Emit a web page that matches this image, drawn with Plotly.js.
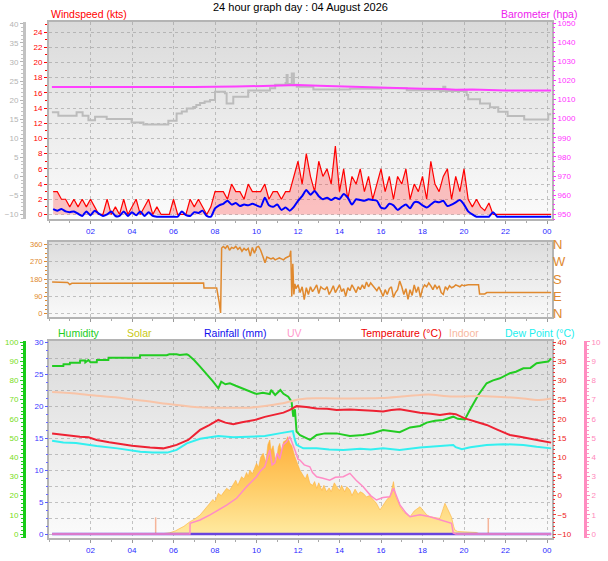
<!DOCTYPE html>
<html><head><meta charset="utf-8">
<script src="https://cdn.plot.ly/plotly-3.0.1.min.js"></script>
<style>html,body{margin:0;padding:0;background:#fff}#chart{width:608px;height:561px}</style>
</head><body><div id="chart"></div>
<script>
// ---------- DATA ----------
const hourTicks = [2,4,6,8,10,12,14,16,18,20,22,24];
const hourLabels = ['02','04','06','08','10','12','14','16','18','20','22','00'];

// wind: 12-minute samples starting at 00:12
const windStep = 0.2;
const gust = [
 3,3,2,2,1, 2,1,2,1,2, 1,0,0,2,0, 1,0,2,0,1, 2,0,1,2,0, 1,0,0,0,2,
 0,0,0,2,1, 2,1,0,1,3, 3,3,2,4,3, 3,2,4,3,3, 3,4,2,3,3, 2,3,3,5,7,
 4,8,5,3,7, 5,6,4,9,3, 6,2,5,4,6, 3,5,2,4,6, 3,5,2,5,4, 6,2,4,3,5,
 2,7,4,3,5, 6,2,5,3,6, 2,1,2,1,0.5, 1.5,0,0,0,0, 0,0,0,0,0, 0,0,0,0,0, 0];
const avgWind = [
 0.7,0.5,0.7,0.4,0.3, 0.4,0.1,-0.2,0.4,-0.1, 0.5,0.1,-0.2,0.0,0.4, -0.2,-0.2,0.4,-0.2,0.3,
 -0.1,0.4,-0.2,0.3,-0.2, -0.3,-0.3,-0.3,-0.3,-0.3, -0.3,0.4,-0.1,-0.2,0.3, 0.2,0.5,-0.2,-0.3,0.8,
 1.2,1.4,1.8,1.3,1.5, 1.1,1.3,1.2,1.4,1.2, 1.0,2.2,1.2,1.0,1.3, 0.6,0.9,0.5,1.0,1.8,
 2.4,3.2,2.6,3.1,2.4, 2.0,2.2,1.9,2.2,2.0, 2.7,2.2,1.3,2.0,1.9, 1.8,2.0,1.9,1.8,0.9,
 0.8,1.4,1.2,0.6,1.0, 1.3,0.8,1.6,1.6,1.2, 0.9,1.3,1.7,1.6,1.8, 1.1,1.3,1.6,1.9,1.3,
 0.4,0.0,-0.3,-0.3,-0.3, -0.3,0.3,-0.3,-0.3,-0.3, -0.3,-0.3,-0.3,-0.3,-0.3, -0.3,-0.3,-0.3,-0.3,-0.3, -0.3];

const greyT = [0.14,0.45,1.33,1.62,1.9,2.22,2.78,3.98,4.55,5.75,6.15,6.4,6.64,6.95,7.1,7.28,7.5,7.76,8.0,8.48,8.56,8.88,9.6,10.65,10.9,11.4,11.45,11.5,11.7,11.8,11.94,12.74,14.5,15.95,17.24,18.84,19.0,19.1,20.13,20.2,20.77,21.25,21.65,22.1,22.9,24.06,24.2];
const greyV = [16.8,15.9,16.8,15.9,14.7,15.6,15.0,14.1,13.6,14.6,16.5,17.0,17.8,18.2,18.7,19.2,19.6,20.0,22.2,21.8,19.1,20.9,22.5,23.1,24.0,24.5,26.6,24.2,27.0,24.0,23.5,22.8,23.0,23.1,22.6,22.4,23.5,22.4,21.3,20.2,19.1,18.1,16.9,15.8,14.9,16.3,16.3];

const baroT = [0.14,4.4,4.45,4.5,7.0,9.0,10.0,11.0,12.0,13.0,14.0,15.0,16.0,17.0,18.0,19.0,19.6,20.4,21.0,22.0,24.2];
const baroV = [1016.6,1016.6,1016.3,1016.6,1016.6,1016.8,1017.0,1017.4,1017.6,1017.3,1016.9,1016.6,1016.3,1016.0,1015.7,1015.6,1015.2,1015.3,1015.0,1014.8,1014.7];

const dirT = [0.15,0.9,1.0,1.1,2,3,4,5,6,7,7.45,7.47,8.08,8.2,8.27,8.32,8.4,8.5,8.6,8.7,8.8,8.9,9.0,9.1,9.2,9.3,9.4,9.5,9.6,9.7,9.8,9.9,10.0,10.1,10.2,10.3,10.41,10.5,10.6,10.7,10.8,10.9,11.0,11.1,11.2,11.3,11.4,11.5,11.6,11.65,11.7,11.75,11.8,11.85,11.9,12.0,12.1,12.2,12.3,12.4,12.5,12.6,12.7,12.8,12.9,13.0,13.1,13.2,13.3,13.4,13.5,13.6,13.7,13.8,13.9,14.0,14.1,14.2,14.3,14.4,14.5,14.6,14.7,14.8,14.9,15.0,15.1,15.2,15.3,15.4,15.5,15.6,15.7,15.8,15.9,16.0,16.1,16.2,16.3,16.4,16.5,16.6,16.7,16.8,16.9,17.0,17.1,17.2,17.3,17.4,17.5,17.6,17.7,17.8,17.9,18.0,18.1,18.2,18.3,18.4,18.5,18.6,18.7,18.8,18.9,19.0,19.1,19.2,19.3,19.4,19.5,19.6,19.7,19.8,19.9,20.0,20.2,20.5,20.7,20.75,21.0,21.1,22,23,24.2];
const dirV = [165,162,152,158,158,158,158,158,158,159,160,134,134,60,4,342,350,340,355,330,345,340,350,335,345,325,340,330,340,300,345,315,345,350,330,300,265,295,290,285,290,280,285,290,285,280,290,295,300,328,90,260,100,155,130,150,110,140,73,135,100,140,115,130,150,105,140,130,125,140,100,120,145,110,130,150,115,130,90,135,120,150,130,110,140,125,150,130,165,140,160,145,135,120,140,115,90,125,100,130,140,85,110,125,170,140,100,130,75,125,95,150,110,140,85,130,150,140,160,145,125,150,130,145,110,100,140,125,145,135,140,150,145,140,150,145,150,150,150,103,103,110,110,110,110];

const humT = [0.15,0.69,0.7,1.0,1.01,1.49,1.5,1.74,1.75,1.9,2.0,2.3,2.31,2.86,2.87,4.38,4.39,5.67,5.8,6.15,6.3,6.64,6.72,7.0,7.28,7.6,7.9,8.16,8.3,8.5,8.72,9.0,9.3,9.68,10.0,10.3,10.64,10.7,10.9,11.15,11.3,11.53,11.69,11.77,11.85,11.93,12.1,12.25,12.58,12.9,13.3,13.86,14.5,15.14,15.6,16.1,16.5,16.9,17.4,17.88,18.2,18.6,19.0,19.48,19.7,20.04,20.3,20.69,21.09,21.4,21.73,22.21,22.5,22.86,23.2,23.5,23.8,24.06,24.2];
const humV = [87.5,87.5,88.4,88.4,89.2,89.2,90.3,90.3,89.4,90.6,89.4,89.4,90.6,90.6,91.8,91.8,93.1,93.1,93.6,93.6,93.2,93.6,93.2,90.5,87.2,83.5,79.5,75.9,79.3,78.0,78.5,77.2,76.0,74.1,72.9,73.5,72.9,75.0,72.4,75.0,73.0,71.5,68.9,61.1,65.0,53.3,51.5,50.7,49.0,51.6,52.4,52.4,51.0,51.6,52.5,54.2,53.5,53.0,55.5,56.3,58.0,59.0,59.4,61.1,60.0,59.7,65.0,72.4,78.5,80.0,81.1,83.7,84.5,86.3,86.5,88.9,89.5,89.8,91.5];

const tempT = [0.15,0.69,1.49,1.9,2.3,2.9,4.0,4.87,5.5,5.83,6.15,6.71,7.28,7.7,8.16,8.5,8.88,9.3,9.68,10.0,10.4,10.96,11.3,11.61,11.93,12.4,12.9,13.4,13.86,14.5,15.14,15.6,16.1,16.5,16.9,17.4,17.88,18.4,18.84,19.32,19.6,20.04,20.5,21.09,21.6,22.21,22.7,23.17,23.7,24.2];
const tempV = [16.2,15.8,15.3,15.2,14.5,13.9,13.0,12.5,12.3,12.7,13.2,14.5,17.1,18.3,19.7,19.0,18.6,19.1,19.5,19.8,20.5,21.3,21.6,22.3,23.3,23.1,22.7,22.6,22.3,22.4,22.3,22.1,21.9,22.3,22.5,22.0,21.6,21.3,21.0,21.4,21.2,20.1,19.3,18.4,17.2,15.8,15.3,14.9,14.3,13.8];

const dewT = [0.15,0.69,1.3,2.3,3.3,4.4,5.0,5.7,6.15,6.64,7.28,8.16,8.88,9.68,10.4,11.1,11.5,11.75,11.85,11.93,12.25,12.9,13.5,14.18,15.0,15.5,16.1,16.9,17.88,18.5,19.48,19.6,19.9,20.3,21.09,21.9,22.86,23.5,24.2];
const dewV = [14.3,13.8,13.7,12.9,12.3,11.4,11.2,11.2,11.9,13.6,14.8,15.5,15.2,15.3,15.5,16.2,16.6,16.8,14.5,13.2,12.3,12.3,12.0,11.9,12.2,12.0,12.3,11.9,12.5,12.8,13.2,12.6,12.1,12.6,13.2,13.4,13.2,12.7,12.3];

const indoorT = [0.15,1.0,2.3,3.2,4.07,4.87,5.67,6.5,7.28,8.16,9.0,9.68,10.5,11.1,11.61,12.0,12.4,14.0,16.0,17.0,17.88,18.3,19.48,21.0,22.86,23.5,24.2];
const indoorV = [27.0,26.7,26.0,25.6,25.0,24.5,23.9,23.4,23.0,22.9,22.9,22.9,23.4,23.9,24.5,25.0,25.3,25.3,25.4,25.8,26.2,26.3,25.8,25.9,25.3,24.9,25.3];

const uvT = [0.15,6.79,6.8,7.28,7.76,8.16,8.56,9.04,9.52,10.0,10.2,10.4,10.55,10.64,10.75,10.88,11.0,11.12,11.28,11.45,11.61,11.75,11.85,12.0,12.09,12.3,12.57,12.7,12.9,13.2,13.53,13.8,14.18,14.5,14.8,15.14,15.5,15.78,16.1,16.42,16.6,16.92,17.2,17.4,17.88,18.36,18.84,19.1,19.4,19.48,19.6,24.2];
const uvV = [0,0,0.56,0.73,1.0,1.25,1.5,1.86,2.46,2.98,3.3,3.5,4.0,4.37,3.6,3.7,4.2,3.9,4.64,4.8,5.07,4.6,4.37,3.9,3.85,3.6,3.5,3.2,2.98,2.9,2.8,2.95,2.98,3.16,2.8,2.46,2.0,1.77,1.9,1.94,2.38,1.5,1.1,0.9,1.0,0.9,0.73,0.65,0.56,0.05,0,0];

const solarT = [0.15,5.2,5.5,5.83,6.1,6.31,6.5,6.79,7.0,7.28,7.5,7.76,7.9,8.0,8.16,8.3,8.56,8.7,8.88,9.0,9.1,9.28,9.4,9.52,9.6,9.68,9.8,10.0,10.1,10.2,10.32,10.45,10.55,10.64,10.7,10.8,10.88,10.95,11.05,11.12,11.2,11.3,11.44,11.5,11.61,11.7,11.85,11.95,12.09,12.2,12.35,12.45,12.57,12.7,12.8,12.9,13.0,13.15,13.25,13.37,13.5,13.6,13.75,13.86,14.0,14.1,14.25,14.35,14.5,14.6,14.75,14.9,15.0,15.14,15.3,15.45,15.6,15.78,15.95,16.1,16.27,16.45,16.6,16.7,16.92,17.1,17.4,17.6,17.88,18.0,18.2,18.36,18.6,18.84,19.0,19.08,19.2,19.4,19.5,19.56,19.7,20.0,20.3,20.6,20.77,24.2];
const solarV = [0,0,3,10,25,44,60,96,115,148,190,240,270,250,318,300,357,340,383,420,380,448,430,480,450,500,470,552,520,600,630,560,700,734,650,690,604,560,680,708,640,720,734,760,710,690,604,560,500,470,430,470,396,380,410,357,400,340,380,331,360,330,400,370,340,380,330,370,344,300,350,310,330,318,290,300,270,240,188,230,266,300,409,300,213,170,135,180,213,190,150,135,130,122,200,240,200,130,60,31,20,18,15,12,0,0];

const rainT = [0.15,24.2];
const rainV = [0,0];

const spikeT = [5.14,21.17];
const spikeV = [130,125];

const titleText = '24 hour graph day : 04 August 2026';

// ---------- LAYOUT HELPERS ----------
const W = 608, H = 561;
const fx = p => p / W;
const fy = p => 1 - p / H;
const FONT = 'Liberation Sans, Arial, sans-serif';
const xDom = [fx(49), fx(552)];
const topDom = [fy(219), fy(22)];
const midDom = [fy(317), fy(242)];
const botDom = [fy(538), fy(341)];
const xRange = [0, 24.24];
const gridCol = 'rgba(150,150,150,0.55)';
const frameCol = '#b4b4b4';

const windT = gust.map((_, i) => +(windStep * (i + 1)).toFixed(2));

function gradImg(y0, y1, c0, c1, c2) {
  const svg = '<svg xmlns="http://www.w3.org/2000/svg" width="10" height="100" preserveAspectRatio="none">' +
    '<defs><linearGradient id="g" x1="0" y1="0" x2="0" y2="1">' +
    '<stop offset="0" stop-color="' + c0 + '"/><stop offset="0.5" stop-color="' + c1 + '"/><stop offset="1" stop-color="' + c2 + '"/>' +
    '</linearGradient></defs><rect width="10" height="100" fill="url(#g)"/></svg>';
  return {
    source: 'data:image/svg+xml;base64,' + btoa(svg),
    xref: 'paper', yref: 'paper', x: fx(49), y: fy(y0), sizex: fx(552) - fx(49), sizey: (y1 - y0) / H,
    xanchor: 'left', yanchor: 'top', sizing: 'stretch', layer: 'below'
  };
}

function xAxis(anchor, labels) {
  return {
    domain: xDom, range: xRange, anchor: anchor, tickmode: 'array', tickvals: hourTicks, ticktext: hourLabels,
    showticklabels: labels, tickfont: {family: FONT, size: 8, color: '#2a2aff'},
    ticks: 'outside', ticklen: 3, tickcolor: '#999',
    minor: {tickmode: 'linear', tick0: 0, dtick: 1, ticks: 'outside', ticklen: 2, tickcolor: '#aaa'},
    showgrid: true, gridcolor: gridCol, griddash: 'dot', gridwidth: 1,
    showline: true, linecolor: frameCol, linewidth: 2, mirror: true, zeroline: false, fixedrange: true
  };
}

function yTicks(color, size) {
  return {family: FONT, size: size || 8, color: color};
}

// ---------- TRACES ----------
const traces = [
  // top panel
  {x: windT, y: gust, xaxis: 'x', yaxis: 'y', mode: 'lines', line: {color: '#ff0000', width: 1.2},
   fill: 'tozeroy', fillcolor: 'rgba(255,60,60,0.30)'},
  {x: windT, y: avgWind, xaxis: 'x', yaxis: 'y', mode: 'lines', line: {color: '#0000ff', width: 2, shape: 'spline', smoothing: 0.6}},
  {x: greyT, y: greyV, xaxis: 'x', yaxis: 'y2', mode: 'lines', line: {color: '#bcbcbc', width: 2, shape: 'hv'}},
  {x: baroT, y: baroV, xaxis: 'x', yaxis: 'y3', mode: 'lines', line: {color: '#ff40ff', width: 2}},
  // middle panel
  {x: dirT, y: dirV, xaxis: 'x2', yaxis: 'y4', mode: 'lines', line: {color: '#e0892e', width: 1.5}},
  {x: dirT, y: dirV, xaxis: 'x2', yaxis: 'y5', mode: 'lines', line: {color: 'rgba(0,0,0,0)', width: 0}, hoverinfo: 'skip'},
  // bottom panel
  {x: solarT, y: solarV, xaxis: 'x3', yaxis: 'y6', mode: 'lines', line: {color: '#ffb23a', width: 0.6},
   fill: 'tozeroy', fillcolor: '#ffc860',
   fillgradient: {type: 'vertical', colorscale: [[0, '#ffeaa0'], [0.5, '#ffcc66'], [1, '#ffae3a']]}},
  {x: spikeT.flatMap(t => [t, t, null]), y: spikeV.flatMap(v => [0, v, null]), xaxis: 'x3', yaxis: 'y6',
   mode: 'lines', line: {color: '#f6b59a', width: 1.5}},
  {x: rainT, y: rainV, xaxis: 'x3', yaxis: 'y7', mode: 'lines', line: {color: '#6a44dd', width: 2.5}},
  {x: humT, y: humV, xaxis: 'x3', yaxis: 'y8', mode: 'lines', line: {color: '#22cc22', width: 2}},
  {x: indoorT, y: indoorV, xaxis: 'x3', yaxis: 'y9', mode: 'lines', line: {color: '#f8c4a8', width: 2, shape: 'spline'}},
  {x: tempT, y: tempV, xaxis: 'x3', yaxis: 'y9', mode: 'lines', line: {color: '#ee2233', width: 2}},
  {x: dewT, y: dewV, xaxis: 'x3', yaxis: 'y9', mode: 'lines', line: {color: '#33f0f0', width: 2}},
  {x: uvT, y: uvV, xaxis: 'x3', yaxis: 'y10', mode: 'lines', line: {color: '#ff8cc6', width: 1.5}}
];

// ---------- LAYOUT ----------
function ann(text, px, py, color, size, anchor) {
  return {text: text, x: fx(px), y: fy(py), xref: 'paper', yref: 'paper', xanchor: anchor || 'left', yanchor: 'middle',
    showarrow: false, font: {family: FONT, size: size || 10, color: color}};
}

const layout = {
  width: W, height: H, autosize: false, margin: {l: 0, r: 0, t: 0, b: 0},
  paper_bgcolor: '#ffffff', plot_bgcolor: 'rgba(0,0,0,0)', showlegend: false, hovermode: false,
  images: [
    gradImg(22, 219, '#dadada', '#ebebeb', '#fbfbfb'),
    gradImg(242, 317, '#dcdcdc', '#ececec', '#f9f9f9'),
    gradImg(341, 538, '#dadada', '#ebebeb', '#fbfbfb')
  ],
  xaxis: xAxis('y', true),
  xaxis2: xAxis('y4', false),
  xaxis3: xAxis('y6', true),
  yaxis: {domain: topDom, range: [-0.6, 25.32], anchor: 'x', tickmode: 'linear', tick0: 0, dtick: 2,
    tickfont: yTicks('#ff0000'), ticks: 'outside', ticklen: 3, tickcolor: '#ff0000',
    minor: {tickmode: 'linear', tick0: 0, dtick: 1, ticks: 'outside', ticklen: 2, tickcolor: '#ff0000'},
    showgrid: true, gridcolor: gridCol, griddash: 'dot', showline: true, linecolor: frameCol, linewidth: 2, mirror: true,
    zeroline: false, fixedrange: true},
  yaxis2: {overlaying: 'y', anchor: 'free', position: fx(24), side: 'left', range: [-11.23, 40.5],
    tickmode: 'linear', tick0: -10, dtick: 5, tickfont: yTicks('#b4b4b4'), ticks: 'outside', ticklen: 3, tickcolor: '#b4b4b4',
    minor: {tickmode: 'linear', tick0: -10, dtick: 1, ticks: 'outside', ticklen: 2, tickcolor: '#c4c4c4'},
    showline: true, linecolor: '#c2c2c2', linewidth: 3, showgrid: false, zeroline: false, fixedrange: true},
  yaxis3: {overlaying: 'y', anchor: 'x', side: 'right', range: [947.5, 1050.6], tickmode: 'linear', tick0: 950, dtick: 10,
    tickfont: yTicks('#ff33ff'), ticks: 'outside', ticklen: 3, tickcolor: '#ff33ff',
    minor: {tickmode: 'linear', tick0: 950, dtick: 2.5, ticks: 'outside', ticklen: 2, tickcolor: '#ff33ff'},
    showgrid: false, zeroline: false, fixedrange: true},
  yaxis4: {domain: midDom, range: [-17.2, 373], anchor: 'x2', tickmode: 'array', tickvals: [0, 90, 180, 270, 360],
    tickfont: yTicks('#e0892e', 7.5), ticks: 'outside', ticklen: 3, tickcolor: '#e0892e',
    minor: {tickmode: 'linear', tick0: 0, dtick: 22.5, ticks: 'outside', ticklen: 2, tickcolor: '#e0892e'},
    showgrid: true, gridcolor: gridCol, griddash: 'dot', showline: true, linecolor: frameCol, linewidth: 2, mirror: true,
    zeroline: false, fixedrange: true},
  yaxis5: {overlaying: 'y4', anchor: 'x2', side: 'right', range: [-17.2, 373], tickmode: 'array',
    tickvals: [0, 90, 180, 270, 360], ticktext: ['N', 'E', 'S', 'W', 'N'], tickfont: {family: FONT, size: 13, color: '#e0892e'},
    ticks: '', showgrid: false, zeroline: false, fixedrange: true},
  yaxis6: {domain: botDom, range: [-31.25, 1507.8], anchor: 'x3', tickmode: 'linear', tick0: 0, dtick: 125,
    showticklabels: false, ticks: '', showgrid: true, gridcolor: gridCol, griddash: 'dot',
    showline: true, linecolor: frameCol, linewidth: 2, mirror: true, zeroline: false, fixedrange: true},
  yaxis7: {overlaying: 'y6', anchor: 'x3', side: 'left', range: [-0.625, 30.16], tickmode: 'linear', tick0: 0, dtick: 5,
    tickfont: yTicks('#3a3aff'), ticks: 'outside', ticklen: 3, tickcolor: '#5a5aff',
    minor: {tickmode: 'linear', tick0: 0, dtick: 1.25, ticks: 'outside', ticklen: 2, tickcolor: '#6a6aff'},
    showgrid: false, zeroline: false, fixedrange: true},
  yaxis8: {overlaying: 'y6', anchor: 'free', position: fx(24), side: 'left', range: [-2.08, 100.52],
    tickmode: 'linear', tick0: 0, dtick: 10, tickfont: yTicks('#77dd22'), ticks: 'outside', ticklen: 3, tickcolor: '#22cc22',
    minor: {tickmode: 'linear', tick0: 0, dtick: 2, ticks: 'outside', ticklen: 2, tickcolor: '#22cc22'},
    showline: true, linecolor: '#18cc18', linewidth: 3, showgrid: false, zeroline: false, fixedrange: true},
  yaxis9: {overlaying: 'y6', anchor: 'x3', side: 'right', range: [-11.04, 40.26], tickmode: 'linear', tick0: -10, dtick: 5,
    tickfont: yTicks('#ee2222'), ticks: 'outside', ticklen: 3, tickcolor: '#ee3333',
    minor: {tickmode: 'linear', tick0: -10, dtick: 1, ticks: 'outside', ticklen: 2, tickcolor: '#ee3333'},
    showgrid: false, zeroline: false, fixedrange: true},
  yaxis10: {overlaying: 'y6', anchor: 'free', position: fx(585), side: 'right', range: [-0.208, 10.05],
    tickmode: 'linear', tick0: 0, dtick: 1, tickfont: yTicks('#ff88bb'), ticks: 'outside', ticklen: 3, tickcolor: '#ff88bb',
    minor: {tickmode: 'linear', tick0: 0, dtick: 0.2, ticks: 'outside', ticklen: 2, tickcolor: '#ff99c4'},
    showline: true, linecolor: '#ff8cc0', linewidth: 3, showgrid: false, zeroline: false, fixedrange: true},
  annotations: [
    ann(titleText, 300, 7, '#000000', 11, 'center'),
    ann('Windspeed (kts)', 49, 14, '#ff0000', 10.5),
    ann('Barometer (hpa)', 499, 14, '#ee22ee', 10.5),
    ann('Humidity', 56, 333, '#22cc22', 10.5),
    ann('Solar', 125, 333, '#c8c814', 10.5),
    ann('Rainfall (mm)', 202, 333, '#1010ee', 10.5),
    ann('UV', 285, 333, '#ff99cc', 10.5),
    ann('Temperature (°C)', 359, 333, '#ee0000', 10.5),
    ann('Indoor', 447, 333, '#f8b8a0', 10.5),
    ann('Dew Point (°C)', 503, 333, '#22eeee', 10.5)
  ]
};

Plotly.newPlot('chart', traces, layout, {staticPlot: true, displayModeBar: false});
</script></body></html>
